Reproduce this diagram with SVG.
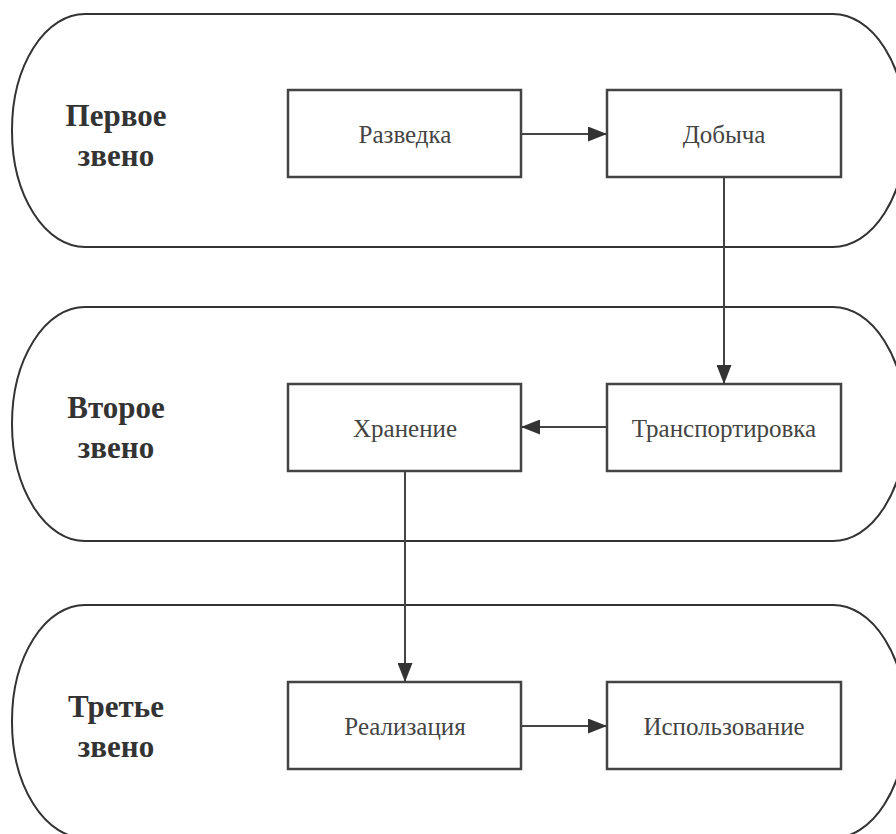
<svg xmlns="http://www.w3.org/2000/svg" width="896" height="834" viewBox="0 0 896 834">
<defs>
<marker id="arr" markerWidth="19" markerHeight="15" refX="19" refY="7.5" orient="auto" markerUnits="userSpaceOnUse">
<path d="M0,0 L19,7.5 L0,15 Z" fill="#333"/>
</marker>
<style>
.lane{fill:#fff;stroke:#333;stroke-width:2}
.box{fill:#fff;stroke:#444;stroke-width:2.5}
.lbl{font-family:"Liberation Serif",serif;font-weight:bold;font-size:31px;fill:#333;text-anchor:middle}
.txt{font-family:"Liberation Serif",serif;font-size:25px;fill:#444;text-anchor:middle}
.edge{fill:none;stroke:#444;stroke-width:2;marker-end:url(#arr)}
</style>
</defs>
<rect width="896" height="834" fill="#fff"/>
<g id="lane1"><rect class="lane" x="12" y="14" width="894" height="233" rx="73" ry="116"/><text class="lbl" x="116" y="126">Первое</text><text class="lbl" x="116" y="166">звено</text></g>
<g id="lane2"><rect class="lane" x="12" y="307" width="894" height="234" rx="73" ry="117"/><text class="lbl" x="116" y="418">Второе</text><text class="lbl" x="116" y="458">звено</text></g>
<g id="lane3"><rect class="lane" x="12" y="605" width="894" height="233" rx="73" ry="116"/><text class="lbl" x="116" y="717">Третье</text><text class="lbl" x="116" y="757">звено</text></g>
<g id="n1"><rect class="box" x="288" y="90" width="233" height="87"/><text class="txt" x="405" y="143">Разведка</text></g>
<g id="n2"><rect class="box" x="607" y="90" width="234" height="87"/><text class="txt" x="724" y="143">Добыча</text></g>
<g id="n3"><rect class="box" x="607" y="384" width="234" height="87"/><text class="txt" x="724" y="437">Транспортировка</text></g>
<g id="n4"><rect class="box" x="288" y="384" width="233" height="87"/><text class="txt" x="405" y="437">Хранение</text></g>
<g id="n5"><rect class="box" x="288" y="682" width="233" height="87"/><text class="txt" x="405" y="735">Реализация</text></g>
<g id="n6"><rect class="box" x="607" y="682" width="234" height="87"/><text class="txt" x="724" y="735">Использование</text></g>
<g id="edges">
<path class="edge" d="M521,134 L607,134"/>
<path class="edge" d="M724,177 L724,384"/>
<path class="edge" d="M607,427 L521,427"/>
<path class="edge" d="M405,471 L405,682"/>
<path class="edge" d="M521,726 L607,726"/>
</g>
</svg>
